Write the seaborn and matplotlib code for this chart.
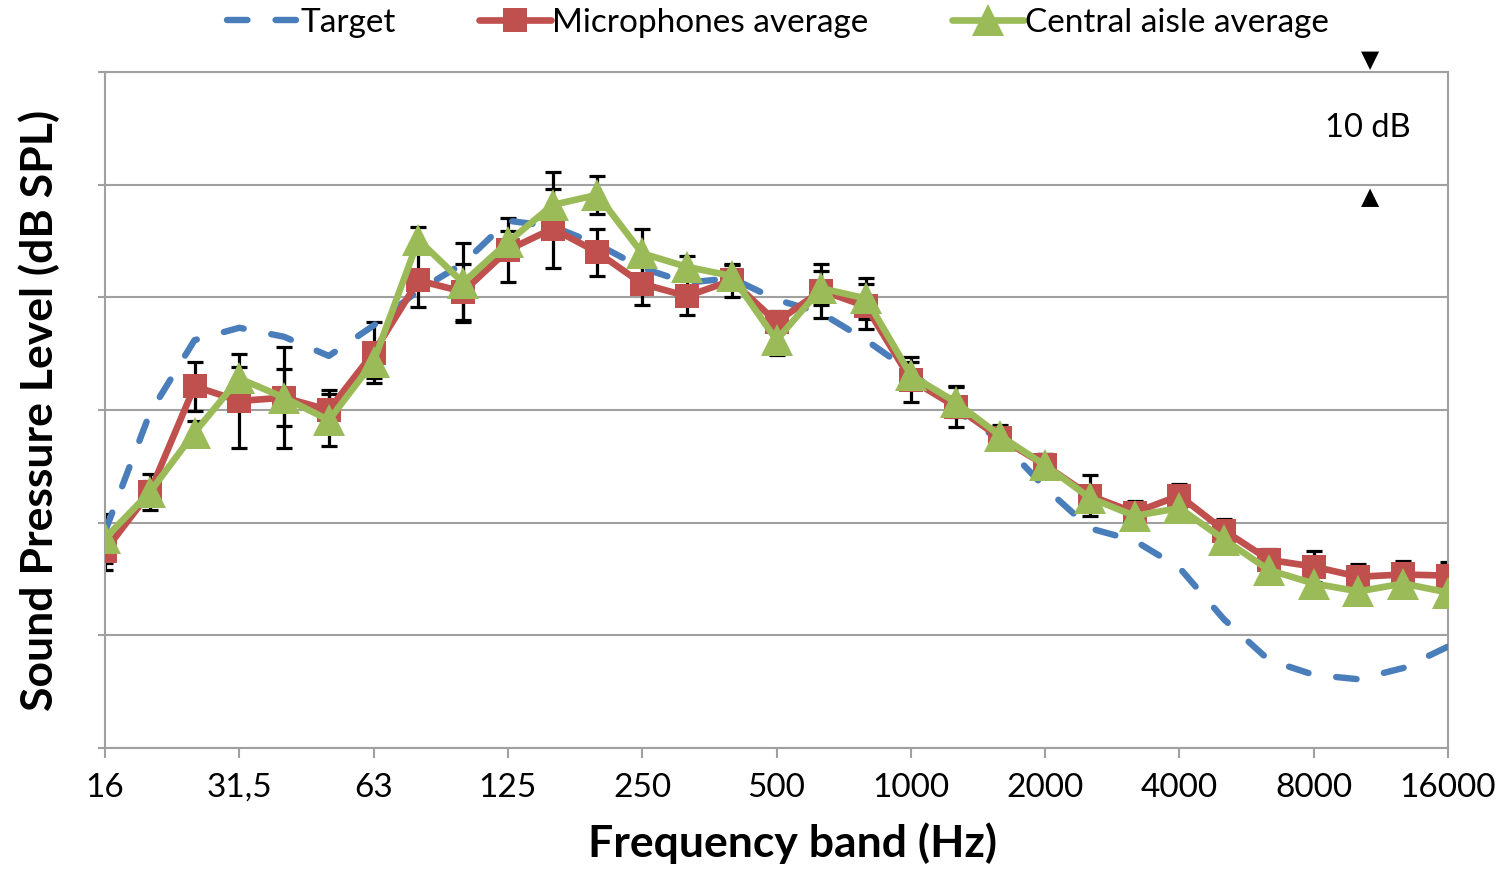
import matplotlib
matplotlib.use("Agg")
import matplotlib.pyplot as plt
import seaborn as sns
import pandas as pd
import numpy as np

bands = ["16", "20", "25", "31,5", "40", "50", "63", "80", "100", "125", "160",
         "200", "250", "315", "400", "500", "630", "800", "1000", "1250", "1600",
         "2000", "2500", "3150", "4000", "5000", "6300", "8000", "10000", "12500", "16000"]
shown_ticks = ["16", "31,5", "63", "125", "250", "500", "1000", "2000", "4000", "8000", "16000"]

target = [19.2, 29.7, 36.2, 37.3, 36.5, 34.8, 37.5, 40.6, 43.0, 46.8, 46.3, 44.7,
          42.6, 41.3, 41.7, 39.8, 38.6, 36.2, 33.4, 30.0, 27.3, 23.1, 19.5, 18.4,
          16.0, 11.4, 7.8, 6.5, 6.1, 7.1, 9.0]
mic_avg = [17.5, 22.7, 32.1, 30.8, 31.1, 30.0, 35.1, 41.5, 40.5, 44.2, 46.1, 44.0,
           41.2, 40.1, 41.5, 37.8, 40.6, 39.2, 32.7, 30.3, 27.5, 25.1, 22.4, 20.9,
           22.4, 19.3, 16.7, 16.1, 15.2, 15.4, 15.3]
aisle_avg = [18.6, 22.7, 28.0, 32.8, 31.1, 29.1, 34.3, 45.1, 41.3, 44.9, 48.2, 49.1,
             43.9, 42.7, 41.9, 36.2, 40.8, 39.9, 33.1, 30.7, 27.7, 25.1, 22.2, 20.6,
             21.3, 18.5, 15.8, 14.6, 13.9, 14.6, 13.8]
mic_err = [1.7, 1.6, 2.2, 4.2, 4.5, 1.8, 2.7, 2.4, 2.5, 2.8, 3.5, 2.1, 1.9, 1.7,
           1.5, 1.0, 2.4, 2.0, 2.0, 1.8, 1.0, 1.0, 1.8, 1.0, 1.0, 1.0, 1.0, 1.4,
           1.1, 1.2, 1.2]
aisle_err = [2.2, 1.0, 1.0, 1.0, 2.5, 2.3, 1.5, 1.1, 3.5, 1.0, 2.9, 1.7, 2.2, 1.0,
             1.0, 1.3, 1.5, 1.8, 1.2, 1.3, 1.0, 1.0, 1.0, 1.0, 1.0, 1.0, 1.0, 1.0,
             1.0, 1.0, 1.0]

df = pd.DataFrame({"pos": np.arange(len(bands)), "band": bands, "target": target,
                   "mic": mic_avg, "aisle": aisle_avg,
                   "mic_err": mic_err, "aisle_err": aisle_err})

sns.set_style("white")
plt.rcParams["font.family"] = ["Lato", "DejaVu Sans"]
plt.rcParams["text.color"] = "black"
plt.rcParams["axes.labelcolor"] = "black"
plt.rcParams["xtick.color"] = "black"

BLUE = "#4a7ebb"
RED = "#c0504d"
GREEN = "#9bbb59"
GRAY = "#a0a0a0"

fig = plt.figure(figsize=(15.05, 8.71), dpi=100)
ax = fig.add_axes([105 / 1505, 1 - 748 / 871, (1448 - 105) / 1505, (748 - 72) / 871])

ax.errorbar(df["pos"], df["aisle"], yerr=df["aisle_err"], fmt="none", ecolor="black",
            elinewidth=2.3, capsize=6, capthick=2.3, zorder=2)
ax.errorbar(df["pos"], df["mic"], yerr=df["mic_err"], fmt="none", ecolor="black",
            elinewidth=2.3, capsize=6, capthick=2.3, zorder=2)

sns.lineplot(data=df, x="pos", y="target", ax=ax, color=BLUE, linewidth=4.6,
             linestyle=(0, (3.2, 4.4)), dash_capstyle="round", label="Target", zorder=3)
sns.lineplot(data=df, x="pos", y="mic", ax=ax, color=RED, linewidth=4.8, marker="s",
             markersize=17, markeredgewidth=0, label="Microphones average", zorder=4)
sns.lineplot(data=df, x="pos", y="aisle", ax=ax, color=GREEN, linewidth=4.8, marker="^",
             markersize=23, markeredgewidth=0, label="Central aisle average", zorder=5)

ax.set_xlim(0, len(bands) - 1)
ax.set_ylim(0, 60)
ax.set_yticks(np.arange(0, 61, 10))
ax.set_yticklabels([])
tick_pos = [bands.index(t) for t in shown_ticks]
ax.set_xticks(tick_pos)
ax.set_xticklabels(shown_ticks, fontsize=24)
ax.grid(axis="y", color=GRAY, linewidth=1.5)
ax.grid(axis="x", visible=False)
for sp in ax.spines.values():
    sp.set_color(GRAY)
    sp.set_linewidth(1.5)
ax.tick_params(axis="x", direction="out", length=7, width=1.5, color=GRAY, pad=11,
               labelcolor="black", bottom=True)
ax.tick_params(axis="y", direction="out", length=5, width=1.5, color=GRAY, left=True)

ax.set_xlabel("Frequency band (Hz)", fontsize=32, fontweight="bold", labelpad=14)
ax.xaxis.label.set_x(0.512)
ax.set_ylabel("Sound Pressure Level (dB SPL)", fontsize=32, fontweight="bold", labelpad=24)

# 10 dB scale annotation
ax.text(28.26, 60.0, "\u25BC", ha="center", va="bottom", fontsize=17,
        family="DejaVu Sans", clip_on=False)
ax.text(28.26, 50.0, "\u25B2", ha="center", va="top", fontsize=17,
        family="DejaVu Sans", clip_on=False)
ax.text(28.2, 55.0, "10 dB", ha="center", va="center", fontsize=23.5)

handles, labels = ax.get_legend_handles_labels()
ax.get_legend().remove()
fig.legend(handles, labels, loc="center", bbox_to_anchor=(0.517, 0.974), ncol=3,
           frameon=False, fontsize=24, handlelength=2.15, columnspacing=2.5,
           handletextpad=0.05)

fig.savefig("out.png", dpi=100)
